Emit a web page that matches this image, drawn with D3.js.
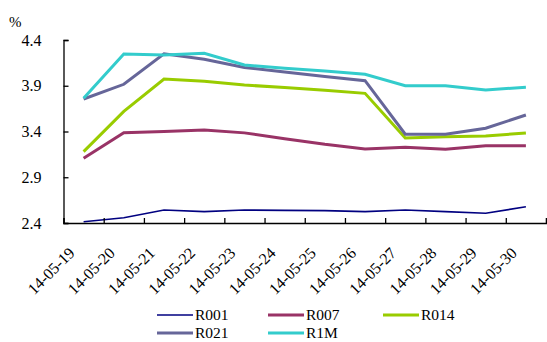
<!DOCTYPE html>
<html>
<head>
<meta charset="utf-8">
<script src="https://cdn.jsdelivr.net/npm/d3@7"></script>
<style>
  html, body { margin: 0; padding: 0; background: #fff; }
  svg { display: block; }
  svg text { font-family: "Liberation Serif", "Times New Roman", Times, serif; fill: #000; }
</style>
</head>
<body>
<svg id="chart" width="547" height="342"></svg>
<script>
// Daily repo fixing rates, %
const dates = ["14-05-19", "14-05-20", "14-05-21", "14-05-22", "14-05-23", "14-05-24",
               "14-05-25", "14-05-26", "14-05-27", "14-05-28", "14-05-29", "14-05-30"];
const r001 = [2.414, 2.458, 2.542, 2.524, 2.542, 2.538, 2.535, 2.524, 2.542, 2.524, 2.506, 2.578];
const r007 = [3.107, 3.387, 3.400, 3.416, 3.385, 3.320, 3.260, 3.210, 3.227, 3.205, 3.245, 3.245];
const r014 = [3.180, 3.620, 3.974, 3.950, 3.908, 3.880, 3.850, 3.817, 3.329, 3.343, 3.350, 3.384];
const r021 = [3.755, 3.916, 4.250, 4.190, 4.100, 4.050, 4.000, 3.955, 3.370, 3.370, 3.435, 3.580];
const r1m  = [3.763, 4.247, 4.236, 4.255, 4.127, 4.090, 4.060, 4.025, 3.900, 3.900, 3.854, 3.883];
const yTicks = [2.4, 2.9, 3.4, 3.9, 4.4];

const seriesNames = ["R001", "R007", "R014", "R021", "R1M"];
const seriesValues = [r001, r007, r014, r021, r1m];
const seriesColors = ["#000080", "#993366", "#99CC00", "#666699", "#33CCCC"];
const seriesWidths = [1.6, 3, 3, 3, 3];

const svg = d3.select("#chart");
const plotLeft = 63.5, plotRight = 546, plotTop = 40, plotBottom = 223;

const x = d3.scalePoint().domain(dates).range([plotLeft, plotRight]).padding(0.5);
const xEdges = d3.scaleLinear().domain([0, dates.length]).range([plotLeft, plotRight]);
const y = d3.scaleLinear().domain([2.4, 4.4]).range([plotBottom, plotTop]);

// Lines
const line = d3.line().x((d, i) => x(dates[i])).y(d => y(d));
seriesValues.forEach((vals, k) => {
  svg.append("path")
    .datum(vals)
    .attr("d", line)
    .attr("fill", "none")
    .attr("stroke", seriesColors[k])
    .attr("stroke-width", seriesWidths[k])
    .attr("stroke-linejoin", "miter");
});

// Y axis with inward ticks
const yAxis = svg.append("g")
  .attr("transform", `translate(${plotLeft},0)`)
  .call(d3.axisLeft(y).tickValues(yTicks).tickSize(-5).tickPadding(22).tickFormat(d3.format(".1f")));
yAxis.selectAll("text").style("font-size", "16px");
yAxis.select(".domain").attr("stroke", "#000").attr("stroke-width", 1.3);
yAxis.selectAll(".tick line").attr("stroke", "#000").attr("stroke-width", 1.3);

// X axis: tick marks on category boundaries, pointing up
const xAxis = svg.append("g")
  .attr("transform", `translate(0,${plotBottom})`)
  .call(d3.axisBottom(xEdges).tickValues(d3.range(dates.length + 1)).tickSize(-5).tickFormat(""));
xAxis.select(".domain").attr("stroke", "#000").attr("stroke-width", 1.3);
xAxis.selectAll(".tick line").attr("stroke", "#000").attr("stroke-width", 1.3);

// Rotated category labels
svg.append("g").selectAll("text")
  .data(dates)
  .join("text")
  .attr("transform", d => `translate(${x(d) - 8},${plotBottom + 31}) rotate(-45)`)
  .attr("text-anchor", "end")
  .style("font-size", "16px")
  .text(d => d);

// Unit label
svg.append("text")
  .attr("x", 9).attr("y", 27)
  .style("font-size", "15px")
  .text("%");

// Legend
const legendPos = [
  { lx: 157, ly: 315 }, { lx: 268, ly: 315 }, { lx: 383, ly: 315 },
  { lx: 157, ly: 333 }, { lx: 268, ly: 333 }
];
const legend = svg.append("g");
seriesNames.forEach((name, k) => {
  const p = legendPos[k];
  legend.append("line")
    .attr("x1", p.lx).attr("x2", p.lx + 36)
    .attr("y1", p.ly).attr("y2", p.ly)
    .attr("stroke", seriesColors[k])
    .attr("stroke-width", seriesWidths[k]);
  legend.append("text")
    .attr("x", p.lx + 38).attr("y", p.ly + 5.2)
    .style("font-size", "15.5px")
    .text(name);
});
</script>
</body>
</html>
